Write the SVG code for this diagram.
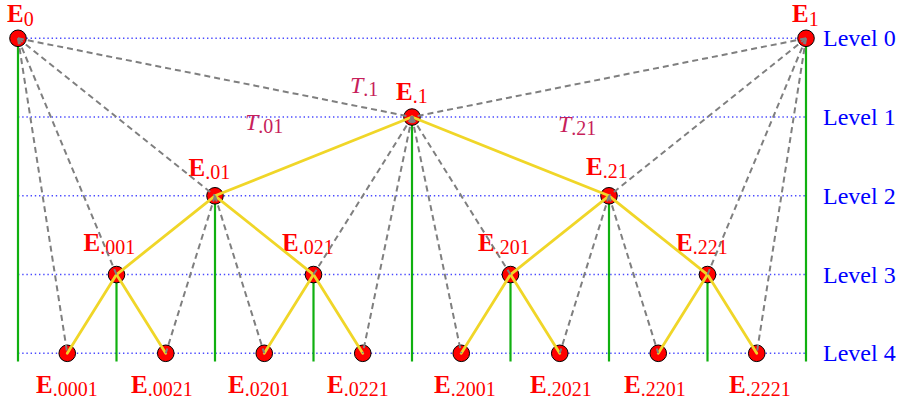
<svg xmlns="http://www.w3.org/2000/svg" width="901" height="403" viewBox="0 0 901 403">
<style>
.lvl{stroke:#4a4aff;stroke-width:1.5;stroke-dasharray:1.4 2.8;fill:none}
.grn{stroke:#10b010;stroke-width:2.2;fill:none}
.yel{stroke:#f0d628;stroke-width:2.8;fill:none;stroke-linecap:round}
.dsh{stroke:#7f7f7f;stroke-width:2;stroke-dasharray:6 4;fill:none}
.nd{fill:#ff0000;stroke:#000;stroke-width:1}
.E{font-family:"Liberation Serif",serif;font-size:25px;font-weight:bold;fill:#ff0000}
.s{font-weight:normal;font-size:20px}
.T{font-family:"Liberation Serif",serif;font-size:24px;font-style:italic;fill:#c71f5b}
.ts{font-style:normal;font-size:20px}
.L{font-family:"Liberation Serif",serif;font-size:24px;fill:#0000ff}
</style>
<g id="levels">
<line class="lvl" x1="18" y1="38.3" x2="806" y2="38.3"/>
<line class="lvl" x1="18" y1="117.05" x2="806" y2="117.05"/>
<line class="lvl" x1="18" y1="195.8" x2="806" y2="195.8"/>
<line class="lvl" x1="18" y1="274.55" x2="806" y2="274.55"/>
<line class="lvl" x1="18" y1="353.3" x2="806" y2="353.3"/>
<text class="L" x="823" y="46">Level 0</text>
<text class="L" x="823" y="125">Level 1</text>
<text class="L" x="823" y="204">Level 2</text>
<text class="L" x="823" y="283">Level 3</text>
<text class="L" x="823" y="361">Level 4</text>
</g>
<g id="verticals">
<line class="grn" x1="18" y1="38.3" x2="18" y2="361.5"/>
<line class="grn" x1="806" y1="38.3" x2="806" y2="361.5"/>
<line class="grn" x1="412" y1="117.05" x2="412" y2="361.5"/>
<line class="grn" x1="215" y1="195.8" x2="215" y2="361.5"/>
<line class="grn" x1="609" y1="195.8" x2="609" y2="361.5"/>
<line class="grn" x1="116.5" y1="274.55" x2="116.5" y2="361.5"/>
<line class="grn" x1="313.5" y1="274.55" x2="313.5" y2="361.5"/>
<line class="grn" x1="510.5" y1="274.55" x2="510.5" y2="361.5"/>
<line class="grn" x1="707.5" y1="274.55" x2="707.5" y2="361.5"/>
</g>
<g id="E0"><circle class="nd" cx="18" cy="38.3" r="8.3"/><text class="E" x="7" y="22">E<tspan class="s" dy="4">0</tspan></text></g>
<g id="E1"><circle class="nd" cx="806" cy="38.3" r="8.3"/><text class="E" x="792" y="22">E<tspan class="s" dy="4">1</tspan></text></g>
<g id="E_1"><circle class="nd" cx="412" cy="117.05" r="8.3"/><text class="E" x="396" y="99.5">E<tspan class="s" dy="3">.1</tspan></text></g>
<g id="E_01"><circle class="nd" cx="215" cy="195.8" r="8.3"/><text class="E" x="188.5" y="175.5">E<tspan class="s" dy="3">.01</tspan></text></g>
<g id="E_21"><circle class="nd" cx="609" cy="195.8" r="8.3"/><text class="E" x="586" y="174.5">E<tspan class="s" dy="3">.21</tspan></text></g>
<g id="E_001"><circle class="nd" cx="116.5" cy="274.55" r="8.3"/><text class="E" x="83.5" y="251">E<tspan class="s" dy="3">.001</tspan></text></g>
<g id="E_021"><circle class="nd" cx="313.5" cy="274.55" r="8.3"/><text class="E" x="282" y="251">E<tspan class="s" dy="3">.021</tspan></text></g>
<g id="E_201"><circle class="nd" cx="510.5" cy="274.55" r="8.3"/><text class="E" x="478" y="251">E<tspan class="s" dy="3">.201</tspan></text></g>
<g id="E_221"><circle class="nd" cx="707.5" cy="274.55" r="8.3"/><text class="E" x="676" y="250.5">E<tspan class="s" dy="3">.221</tspan></text></g>
<g id="E_0001"><circle class="nd" cx="67.25" cy="353.3" r="8.3"/><text class="E" x="36" y="393">E<tspan class="s" dy="3">.0001</tspan></text></g>
<g id="E_0021"><circle class="nd" cx="165.75" cy="353.3" r="8.3"/><text class="E" x="131" y="393">E<tspan class="s" dy="3">.0021</tspan></text></g>
<g id="E_0201"><circle class="nd" cx="264.25" cy="353.3" r="8.3"/><text class="E" x="228" y="393">E<tspan class="s" dy="3">.0201</tspan></text></g>
<g id="E_0221"><circle class="nd" cx="362.75" cy="353.3" r="8.3"/><text class="E" x="327" y="393">E<tspan class="s" dy="3">.0221</tspan></text></g>
<g id="E_2001"><circle class="nd" cx="461.25" cy="353.3" r="8.3"/><text class="E" x="434" y="393">E<tspan class="s" dy="3">.2001</tspan></text></g>
<g id="E_2021"><circle class="nd" cx="559.75" cy="353.3" r="8.3"/><text class="E" x="530" y="393">E<tspan class="s" dy="3">.2021</tspan></text></g>
<g id="E_2201"><circle class="nd" cx="658.25" cy="353.3" r="8.3"/><text class="E" x="624" y="393">E<tspan class="s" dy="3">.2201</tspan></text></g>
<g id="E_2221"><circle class="nd" cx="756.75" cy="353.3" r="8.3"/><text class="E" x="729" y="393">E<tspan class="s" dy="3">.2221</tspan></text></g>
<g id="T_labels">
<text class="T" x="350" y="93">T<tspan class="ts" dy="3">.1</tspan></text>
<text class="T" x="245" y="129.5">T<tspan class="ts" dy="3">.01</tspan></text>
<text class="T" x="558" y="131.5">T<tspan class="ts" dy="3">.21</tspan></text>
</g>
<g id="connectors">
<g id="tree">
<line class="yel" x1="412" y1="117.05" x2="215" y2="195.8"/>
<line class="yel" x1="412" y1="117.05" x2="609" y2="195.8"/>
<line class="yel" x1="215" y1="195.8" x2="116.5" y2="274.55"/>
<line class="yel" x1="215" y1="195.8" x2="313.5" y2="274.55"/>
<line class="yel" x1="609" y1="195.8" x2="510.5" y2="274.55"/>
<line class="yel" x1="609" y1="195.8" x2="707.5" y2="274.55"/>
<line class="yel" x1="116.5" y1="274.55" x2="67.25" y2="353.3"/>
<line class="yel" x1="116.5" y1="274.55" x2="165.75" y2="353.3"/>
<line class="yel" x1="313.5" y1="274.55" x2="264.25" y2="353.3"/>
<line class="yel" x1="313.5" y1="274.55" x2="362.75" y2="353.3"/>
<line class="yel" x1="510.5" y1="274.55" x2="461.25" y2="353.3"/>
<line class="yel" x1="510.5" y1="274.55" x2="559.75" y2="353.3"/>
<line class="yel" x1="707.5" y1="274.55" x2="658.25" y2="353.3"/>
<line class="yel" x1="707.5" y1="274.55" x2="756.75" y2="353.3"/>
</g>
<g id="dashed">
<line class="dsh" x1="18" y1="38.3" x2="412" y2="117.05"/>
<line class="dsh" x1="18" y1="38.3" x2="215" y2="195.8"/>
<line class="dsh" x1="18" y1="38.3" x2="116.5" y2="274.55"/>
<line class="dsh" x1="18" y1="38.3" x2="67.25" y2="353.3"/>
<line class="dsh" x1="806" y1="38.3" x2="412" y2="117.05"/>
<line class="dsh" x1="806" y1="38.3" x2="609" y2="195.8"/>
<line class="dsh" x1="806" y1="38.3" x2="707.5" y2="274.55"/>
<line class="dsh" x1="806" y1="38.3" x2="756.75" y2="353.3"/>
<line class="dsh" x1="412" y1="117.05" x2="313.5" y2="274.55"/>
<line class="dsh" x1="412" y1="117.05" x2="362.75" y2="353.3"/>
<line class="dsh" x1="412" y1="117.05" x2="510.5" y2="274.55"/>
<line class="dsh" x1="412" y1="117.05" x2="461.25" y2="353.3"/>
<line class="dsh" x1="215" y1="195.8" x2="165.75" y2="353.3"/>
<line class="dsh" x1="215" y1="195.8" x2="264.25" y2="353.3"/>
<line class="dsh" x1="609" y1="195.8" x2="559.75" y2="353.3"/>
<line class="dsh" x1="609" y1="195.8" x2="658.25" y2="353.3"/>
</g>
</g>
</svg>
